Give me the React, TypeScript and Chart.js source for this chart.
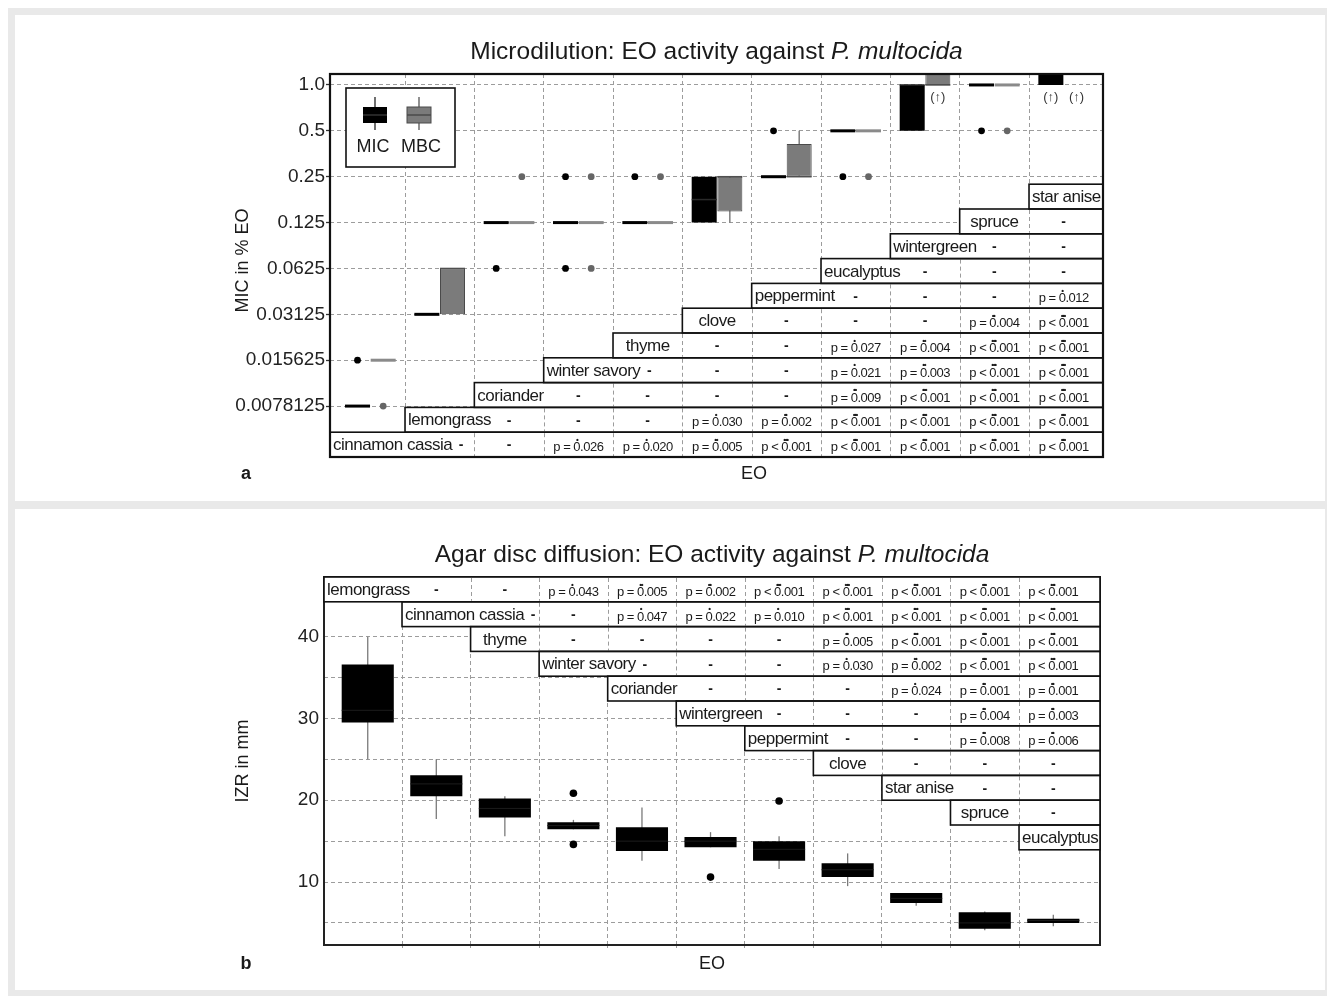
import React, { useEffect, useRef } from "react";
import { Chart, registerables } from "chart.js";
Chart.register(...registerables);

const FONT = "'Liberation Sans', Arial, sans-serif";
const GRID = "#9c9c9c";
const TEXT = "#1a1a1a";
const ROW_H = 24.8;

// ---------------- Panel a: microdilution ----------------
const titleA = "Microdilution: EO activity against ";
const titleItalic = "P. multocida";
const yTitleA = "MIC in % EO";
const xTitle = "EO";
const legendLabels = ["MIC", "MBC"];
const categoriesA = ["cinnamon cassia", "lemongrass", "coriander", "winter savory", "thyme", "clove", "peppermint", "eucalyptus", "wintergreen", "spruce", "star anise"];
const yTickValuesA = [1, 0.5, 0.25, 0.125, 0.0625, 0.03125, 0.015625, 0.0078125];
const yTickLabelsA = ["1.0", "0.5", "0.25", "0.125", "0.0625", "0.03125", "0.015625", "0.0078125"];

const micQ1 = [0.0078125, 0.03125, 0.125, 0.125, 0.125, 0.125, 0.25, 0.5, 0.5, 1, 1];
const micQ3 = [0.0078125, 0.03125, 0.125, 0.125, 0.125, 0.25, 0.25, 0.5, 1, 1, 2];
const micMedian = [0.0078125, 0.03125, 0.125, 0.125, 0.125, 0.177, 0.25, 0.5, 1, 1, 2];
const micWhiskerLow = [null, null, null, null, null, null, null, null, null, null, null];
const micWhiskerHigh = [null, null, null, null, null, null, null, null, null, null, null];
const micOutliers = [[0.015625], [], [0.0625], [0.25, 0.0625], [0.25], [], [0.5], [0.25], [], [0.5], []];
const micAboveRange = [false, false, false, false, false, false, false, false, false, false, true];

const mbcQ1 = [0.015625, 0.03125, 0.125, 0.125, 0.125, 0.148, 0.25, 0.5, 1, 1, null];
const mbcQ3 = [0.015625, 0.0625, 0.125, 0.125, 0.125, 0.25, 0.41, 0.5, 2, 1, null];
const mbcMedian = [0.015625, 0.0625, 0.125, 0.125, 0.125, 0.25, 0.25, 0.5, 1, 1, null];
const mbcWhiskerLow = [null, null, null, null, null, 0.125, null, null, null, null, null];
const mbcWhiskerHigh = [null, null, null, null, null, null, 0.5, null, null, null, null];
const mbcOutliers = [[0.0078125], [], [0.25], [0.25, 0.0625], [0.25], [], [], [0.25], [], [0.5], []];
const mbcAboveRange = [false, false, false, false, false, false, false, false, true, false, true];
const aboveRangeMark = "(\u2191)";

const tableA = [
  ["-", "-", "p = 0.026*", "p = 0.020*", "p = 0.005**", "p < 0.001***", "p < 0.001***", "p < 0.001***", "p < 0.001***", "p < 0.001***"],
  ["-", "-", "-", "p = 0.030*", "p = 0.002**", "p < 0.001***", "p < 0.001***", "p < 0.001***", "p < 0.001***"],
  ["-", "-", "-", "-", "p = 0.009**", "p < 0.001***", "p < 0.001***", "p < 0.001***"],
  ["-", "-", "-", "p = 0.021*", "p = 0.003**", "p < 0.001***", "p < 0.001***"],
  ["-", "-", "p = 0.027*", "p = 0.004**", "p < 0.001***", "p < 0.001***"],
  ["-", "-", "-", "p = 0.004**", "p < 0.001***"],
  ["-", "-", "-", "p = 0.012*"],
  ["-", "-", "-"],
  ["-", "-"],
  ["-"],
  [],
];

// ---------------- Panel b: agar disc diffusion ----------------
const titleB = "Agar disc diffusion: EO activity against ";
const yTitleB = "IZR in mm";
const categoriesB = ["lemongrass", "cinnamon cassia", "thyme", "winter savory", "coriander", "wintergreen", "peppermint", "clove", "star anise", "spruce", "eucalyptus"];
const yTickValuesB = [5, 10, 15, 20, 25, 30, 35, 40, 45];
const yTickLabelsB = ["", "10", "", "20", "", "30", "", "40", ""];
const izrQ1 = [29.5, 20.5, 17.9, 16.45, 13.8, 14.25, 12.6, 10.6, 7.45, 4.3, 5.0];
const izrQ3 = [36.6, 23.05, 20.2, 17.3, 16.7, 15.5, 15.0, 12.3, 8.65, 6.3, 5.5];
const izrMedian = [31, 22, 19, 16.9, 15, 15, 14, 11.5, 8, 5, 5.3];
const izrWhiskerLow = [25, 17.7, 15.6, 16.45, 12.6, 14.25, 11.6, 9.5, 7.1, 4.1, 4.6];
const izrWhiskerHigh = [40, 25, 20.5, 17.6, 19.1, 16.1, 15.6, 13.5, 8.65, 6.4, 6.0];
const izrOutliers = [[], [], [], [20.85, 14.6], [], [10.6], [19.9], [], [], [], []];

const tableB = [
  ["-", "-", "p = 0.043*", "p = 0.005**", "p = 0.002**", "p < 0.001***", "p < 0.001***", "p < 0.001***", "p < 0.001***", "p < 0.001***"],
  ["-", "-", "p = 0.047*", "p = 0.022*", "p = 0.010*", "p < 0.001***", "p < 0.001***", "p < 0.001***", "p < 0.001***"],
  ["-", "-", "-", "-", "p = 0.005**", "p < 0.001***", "p < 0.001***", "p < 0.001***"],
  ["-", "-", "-", "p = 0.030*", "p = 0.002**", "p < 0.001***", "p < 0.001***"],
  ["-", "-", "-", "p = 0.024*", "p = 0.001**", "p = 0.001**"],
  ["-", "-", "-", "p = 0.004**", "p = 0.003**"],
  ["-", "-", "p = 0.008**", "p = 0.006**"],
  ["-", "-", "-"],
  ["-", "-"],
  ["-"],
  [],
];

// ---------------- styling / layout constants ----------------
const MIC_FILL = "#000000";
const MBC_FILL = "#7b7b7b";
const MBC_EDGE = "#4a4a4a";
const CAT_A = 0.74;
const BAR_A = 0.975;
const CAT_B = 0.76;
const BAR_B = 1;
const TITLE_SIZE = 24.5;

const seriesA = [
  { q1: micQ1, q3: micQ3, med: micMedian, lo: micWhiskerLow, hi: micWhiskerHigh, out: micOutliers, above: micAboveRange, line: "#000", inner: "#2a2a2a", whisker: "#333", dot: "#000" },
  { q1: mbcQ1, q3: mbcQ3, med: mbcMedian, lo: mbcWhiskerLow, hi: mbcWhiskerHigh, out: mbcOutliers, above: mbcAboveRange, line: "#8a8a8a", inner: "#505050", whisker: "#6a6a6a", dot: "#666" },
];

function groupX(chart: any, j: number, s: number, n: number, cat: number, bar: number) {
  const xs = chart.scales.x;
  const c = xs.getPixelForValue(j);
  const unit = xs.getPixelForValue(j + 1) - c;
  const range = unit * cat;
  const slot = range / n;
  return { cx: c - range / 2 + slot * (s + 0.5), w: slot * bar };
}

function clipArea(ctx: any, a: any) {
  ctx.beginPath();
  ctx.rect(a.left, a.top, a.right - a.left, a.bottom - a.top);
  ctx.clip();
}

function drawCell(ctx: any, text: string, cx: number, cy: number) {
  ctx.fillStyle = TEXT;
  ctx.textBaseline = "middle";
  if (text === "-") {
    ctx.font = `bold 14px ${FONT}`;
    ctx.letterSpacing = "0px";
    ctx.textAlign = "center";
    ctx.fillText("-", cx, cy + 1);
    return;
  }
  const m = text.match(/^(.*?)(\*+)$/);
  const main = m ? m[1] : text;
  const n = m ? m[2].length : 0;
  ctx.font = `13px ${FONT}`;
  ctx.letterSpacing = "-0.5px";
  const tw = ctx.measureText(main).width;
  const x0 = cx - tw / 2;
  ctx.textAlign = "left";
  ctx.fillText(main, x0, cy + 3);
  if (n) {
    const di = main.search(/\d/);
    const px = x0 + ctx.measureText(main.slice(0, di)).width + ctx.measureText("0").width / 2;
    ctx.font = `bold 8px ${FONT}`;
    ctx.letterSpacing = "-1.4px";
    ctx.textAlign = "center";
    ctx.fillText("\u2022".repeat(n), px + 0.7 * (n - 1) * 0.5, cy - 5);
  }
  ctx.letterSpacing = "0px";
}

function drawTable(chart: any, labels: string[], cells: string[][], fromBottom: boolean) {
  const { ctx, chartArea: a } = chart;
  const xs = chart.scales.x;
  const n = labels.length;
  const left = (c: number) => (c === 0 ? a.left : xs.getPixelForValue(c - 0.5));
  const right = (c: number) => (c === n - 1 ? a.right : xs.getPixelForValue(c + 0.5));
  const rowTop = (k: number) => (fromBottom ? a.bottom - (k + 1) * ROW_H : a.top + k * ROW_H);
  ctx.save();
  ctx.font = `17px ${FONT}`;
  ctx.letterSpacing = "-0.5px";
  const info = labels.map((lab, k) => {
    const w = ctx.measureText(lab).width;
    const cw = right(k) - left(k);
    const fits = w + 6 <= cw;
    const lx = fits ? left(k) + (cw - w) / 2 : left(k) + 3;
    const overflow = k < n - 1 && lx + w > right(k) - 1;
    return { w, lx, overflow };
  });
  ctx.fillStyle = "#fff";
  labels.forEach((_, k) => ctx.fillRect(left(k), rowTop(k), a.right - left(k), ROW_H));
  ctx.strokeStyle = GRID;
  ctx.lineWidth = 1;
  ctx.setLineDash([4, 3]);
  labels.forEach((_, k) => {
    for (let b = k + 1; b < n; b++) {
      if (b === k + 1 && info[k].overflow) continue;
      const x = Math.round(left(b)) + 0.5;
      ctx.beginPath();
      ctx.moveTo(x, rowTop(k) + 1);
      ctx.lineTo(x, rowTop(k) + ROW_H - 1);
      ctx.stroke();
    }
  });
  ctx.setLineDash([]);
  ctx.strokeStyle = "#111";
  ctx.lineWidth = 1.6;
  labels.forEach((_, k) => ctx.strokeRect(left(k), rowTop(k), a.right - left(k), ROW_H));
  labels.forEach((lab, k) => {
    const cy = rowTop(k) + ROW_H / 2;
    ctx.font = `17px ${FONT}`;
    ctx.letterSpacing = "-0.5px";
    ctx.fillStyle = TEXT;
    ctx.textAlign = "left";
    ctx.textBaseline = "middle";
    ctx.fillText(lab, info[k].lx, cy + 1);
    cells[k].forEach((t, idx) => {
      const col = k + 1 + idx;
      let cx = xs.getPixelForValue(col);
      if (idx === 0 && info[k].overflow) cx = Math.max(cx, info[k].lx + info[k].w + 9);
      drawCell(ctx, t, cx, cy);
    });
  });
  ctx.restore();
}

function drawTitle(ctx: any, cx: number, cy: number, normal: string, italic: string) {
  ctx.save();
  ctx.textBaseline = "middle";
  ctx.textAlign = "left";
  ctx.fillStyle = TEXT;
  ctx.font = `${TITLE_SIZE}px ${FONT}`;
  const w1 = ctx.measureText(normal).width;
  ctx.font = `italic ${TITLE_SIZE}px ${FONT}`;
  const w2 = ctx.measureText(italic).width;
  const x0 = cx - (w1 + w2) / 2;
  ctx.font = `${TITLE_SIZE}px ${FONT}`;
  ctx.fillText(normal, x0, cy);
  ctx.font = `italic ${TITLE_SIZE}px ${FONT}`;
  ctx.fillText(italic, x0 + w1, cy);
  ctx.restore();
}

function drawAxisTexts(ctx: any, yTitle: string, yx: number, yy: number, ex: number, ey: number, letter: string) {
  ctx.save();
  ctx.fillStyle = TEXT;
  ctx.textAlign = "center";
  ctx.textBaseline = "middle";
  ctx.font = `18px ${FONT}`;
  ctx.fillText(xTitle, ex, ey);
  ctx.font = `bold 18px ${FONT}`;
  ctx.fillText(letter, 231, ey);
  ctx.translate(yx, yy);
  ctx.rotate(-Math.PI / 2);
  ctx.font = `18px ${FONT}`;
  ctx.fillText(yTitle, 0, 0);
  ctx.restore();
}

function drawLegend(ctx: any, x: number, y: number) {
  const w = 109, h = 79;
  ctx.save();
  ctx.fillStyle = "#fff";
  ctx.fillRect(x, y, w, h);
  ctx.strokeStyle = "#111";
  ctx.lineWidth = 1.6;
  ctx.strokeRect(x, y, w, h);
  const icons = [
    { cx: x + 29, fill: MIC_FILL, edge: null, wh: "#222", med: "#333", tx: x + 27 },
    { cx: x + 73, fill: MBC_FILL, edge: MBC_EDGE, wh: "#555", med: "#4a4a4a", tx: x + 75 },
  ];
  icons.forEach((ic, i) => {
    ctx.strokeStyle = ic.wh;
    ctx.lineWidth = 1.3;
    ctx.beginPath();
    ctx.moveTo(ic.cx, y + 9);
    ctx.lineTo(ic.cx, y + 42);
    ctx.stroke();
    ctx.fillStyle = ic.fill;
    ctx.fillRect(ic.cx - 12, y + 19, 24, 16);
    if (ic.edge) {
      ctx.strokeStyle = ic.edge;
      ctx.lineWidth = 1;
      ctx.strokeRect(ic.cx - 12, y + 19, 24, 16);
    }
    ctx.strokeStyle = ic.med;
    ctx.lineWidth = 1.5;
    ctx.beginPath();
    ctx.moveTo(ic.cx - 12, y + 27);
    ctx.lineTo(ic.cx + 12, y + 27);
    ctx.stroke();
    ctx.fillStyle = TEXT;
    ctx.font = `18px ${FONT}`;
    ctx.textAlign = "center";
    ctx.textBaseline = "middle";
    ctx.fillText(legendLabels[i], ic.tx, y + 59);
  });
  ctx.restore();
}

const plotA = {
  id: "plotA",
  beforeDatasetsDraw(chart: any) {
    const { ctx, chartArea: a } = chart;
    const ys = chart.scales.y;
    ctx.save();
    clipArea(ctx, a);
    seriesA.forEach((s, si) => {
      categoriesA.forEach((_, j) => {
        const lo = s.lo[j], hi = s.hi[j];
        if (lo == null && hi == null) return;
        const { cx } = groupX(chart, j, si, 2, CAT_A, BAR_A);
        ctx.strokeStyle = s.whisker;
        ctx.lineWidth = 1.3;
        ctx.beginPath();
        ctx.moveTo(cx, ys.getPixelForValue(hi != null ? hi : s.q3[j]));
        ctx.lineTo(cx, ys.getPixelForValue(lo != null ? lo : s.q1[j]));
        ctx.stroke();
      });
    });
    ctx.restore();
  },
  afterDatasetsDraw(chart: any) {
    const { ctx, chartArea: a } = chart;
    const ys = chart.scales.y;
    ctx.save();
    clipArea(ctx, a);
    seriesA.forEach((s, si) => {
      categoriesA.forEach((_, j) => {
        const { cx, w } = groupX(chart, j, si, 2, CAT_A, BAR_A);
        const med = s.med[j];
        if (med != null) {
          const y = ys.getPixelForValue(med);
          const flat = s.q1[j] === s.q3[j];
          ctx.strokeStyle = flat ? s.line : s.inner;
          ctx.lineWidth = flat ? 3 : 1.5;
          ctx.beginPath();
          ctx.moveTo(cx - w / 2, y);
          ctx.lineTo(cx + w / 2, y);
          ctx.stroke();
        }
        s.out[j].forEach((v) => {
          ctx.fillStyle = s.dot;
          ctx.beginPath();
          ctx.arc(cx, ys.getPixelForValue(v), 3.4, 0, Math.PI * 2);
          ctx.fill();
        });
      });
    });
    ctx.restore();
    ctx.save();
    ctx.fillStyle = "#333";
    ctx.font = `13px ${FONT}`;
    ctx.textAlign = "center";
    ctx.textBaseline = "middle";
    seriesA.forEach((s, si) => {
      categoriesA.forEach((_, j) => {
        if (!s.above[j]) return;
        const { cx } = groupX(chart, j, si, 2, CAT_A, BAR_A);
        ctx.fillText(aboveRangeMark, cx, ys.getPixelForValue(yTickValuesA[0]) + 12);
      });
    });
    ctx.restore();
    drawTable(chart, categoriesA, tableA, true);
    ctx.save();
    ctx.strokeStyle = "#111";
    ctx.lineWidth = 2.2;
    ctx.strokeRect(a.left, a.top, a.right - a.left, a.bottom - a.top);
    ctx.restore();
    drawLegend(ctx, a.left + 16, a.top + 14);
    drawTitle(ctx, (a.left + a.right) / 2, 37, titleA, titleItalic);
    drawAxisTexts(ctx, yTitleA, 228, (a.top + a.bottom) / 2 - 5, 739, 459, "a");
  },
};

const plotB = {
  id: "plotB",
  beforeDatasetsDraw(chart: any) {
    const { ctx, chartArea: a } = chart;
    const ys = chart.scales.y;
    ctx.save();
    clipArea(ctx, a);
    ctx.strokeStyle = "#7a7a7a";
    ctx.lineWidth = 1.3;
    categoriesB.forEach((_, j) => {
      const { cx } = groupX(chart, j, 0, 1, CAT_B, BAR_B);
      ctx.beginPath();
      ctx.moveTo(cx, ys.getPixelForValue(izrWhiskerHigh[j]));
      ctx.lineTo(cx, ys.getPixelForValue(izrWhiskerLow[j]));
      ctx.stroke();
    });
    ctx.restore();
  },
  afterDatasetsDraw(chart: any) {
    const { ctx, chartArea: a } = chart;
    const ys = chart.scales.y;
    ctx.save();
    clipArea(ctx, a);
    categoriesB.forEach((_, j) => {
      const { cx, w } = groupX(chart, j, 0, 1, CAT_B, BAR_B);
      const y = ys.getPixelForValue(izrMedian[j]);
      ctx.strokeStyle = "#1c1c1c";
      ctx.lineWidth = 1;
      ctx.beginPath();
      ctx.moveTo(cx - w / 2, y);
      ctx.lineTo(cx + w / 2, y);
      ctx.stroke();
      izrOutliers[j].forEach((v) => {
        ctx.fillStyle = "#000";
        ctx.beginPath();
        ctx.arc(cx, ys.getPixelForValue(v), 3.8, 0, Math.PI * 2);
        ctx.fill();
      });
    });
    ctx.restore();
    ctx.save();
    ctx.strokeStyle = "#222";
    ctx.lineWidth = 2;
    ctx.strokeRect(a.left, a.top, a.right - a.left, a.bottom - a.top);
    ctx.restore();
    drawTable(chart, categoriesB, tableB, false);
    drawTitle(ctx, (a.left + a.right) / 2, 46, titleB, titleItalic);
    drawAxisTexts(ctx, yTitleB, 228, (a.top + a.bottom) / 2, 697, 455, "b");
  },
};

const boundariesA = categoriesA.slice(1).map((_, i) => i + 0.5);
const boundariesB = categoriesB.slice(1).map((_, i) => i + 0.5);

function makeConfigA(): any {
  return {
    type: "bar",
    data: {
      datasets: [
        {
          label: legendLabels[0],
          data: categoriesA.map((_, j) => ({ x: j, y: micQ1[j] !== micQ3[j] ? [micQ1[j], micQ3[j]] : null })),
          backgroundColor: MIC_FILL,
          borderColor: MIC_FILL,
          borderWidth: 0,
          borderSkipped: false,
          categoryPercentage: CAT_A,
          barPercentage: BAR_A,
        },
        {
          label: legendLabels[1],
          data: categoriesA.map((_, j) => ({ x: j, y: mbcQ1[j] != null && mbcQ1[j] !== mbcQ3[j] ? [mbcQ1[j], mbcQ3[j]] : null })),
          backgroundColor: MBC_FILL,
          borderColor: MBC_EDGE,
          borderWidth: 1,
          borderSkipped: false,
          categoryPercentage: CAT_A,
          barPercentage: BAR_A,
        },
      ],
    },
    options: {
      animation: false,
      responsive: false,
      layout: { padding: { left: 0, right: 222, top: 59, bottom: 0 } },
      plugins: { legend: { display: false }, tooltip: { enabled: false }, title: { display: false } },
      scales: {
        x: {
          type: "linear",
          min: -0.582,
          max: 10.567,
          offset: false,
          grid: { offset: false, color: GRID, lineWidth: 1, drawTicks: false },
          border: { display: false, dash: [4, 3] },
          ticks: { display: false },
          afterBuildTicks: (s: any) => { s.ticks = boundariesA.map((v) => ({ value: v })); },
          afterFit: (s: any) => { s.height = 44; },
        },
        y: {
          type: "logarithmic",
          min: 0.00362,
          max: 1.18,
          grid: { color: GRID, lineWidth: 1, drawTicks: true, tickLength: 4, tickColor: "#333", tickWidth: 1.3, tickBorderDash: [] },
          border: { display: false, dash: [4, 3] },
          ticks: {
            font: { family: FONT, size: 19 },
            color: "#222",
            padding: 1,
            callback: (v: number) => {
              const i = yTickValuesA.indexOf(v);
              return i >= 0 ? yTickLabelsA[i] : "";
            },
          },
          afterBuildTicks: (s: any) => { s.ticks = yTickValuesA.map((v) => ({ value: v })); },
          afterFit: (s: any) => { s.width = 315; },
        },
      },
    },
    plugins: [plotA],
  };
}

function makeConfigB(): any {
  return {
    type: "bar",
    data: {
      datasets: [
        {
          label: "IZR",
          data: categoriesB.map((_, j) => ({ x: j, y: [izrQ1[j], izrQ3[j]] })),
          backgroundColor: "#000",
          borderColor: "#000",
          borderWidth: 0,
          borderSkipped: false,
          categoryPercentage: CAT_B,
          barPercentage: BAR_B,
        },
      ],
    },
    options: {
      animation: false,
      responsive: false,
      layout: { padding: { left: 0, right: 225, top: 68, bottom: 0 } },
      plugins: { legend: { display: false }, tooltip: { enabled: false }, title: { display: false } },
      scales: {
        x: {
          type: "linear",
          min: -0.638,
          max: 10.681,
          offset: false,
          grid: { offset: false, color: GRID, lineWidth: 1, drawTicks: true, tickLength: 5, tickColor: GRID, tickBorderDash: [3, 3] },
          border: { display: false, dash: [4, 3] },
          ticks: { display: false },
          afterBuildTicks: (s: any) => { s.ticks = boundariesB.map((v) => ({ value: v })); },
          afterFit: (s: any) => { s.height = 45; },
        },
        y: {
          type: "linear",
          min: 2.3,
          max: 47.3,
          grid: { color: GRID, lineWidth: 1, drawTicks: false },
          border: { display: false, dash: [4, 3] },
          ticks: {
            font: { family: FONT, size: 19 },
            color: "#222",
            padding: 5,
            callback: (v: number) => {
              const i = yTickValuesB.indexOf(v);
              return i >= 0 ? yTickLabelsB[i] : "";
            },
          },
          afterBuildTicks: (s: any) => { s.ticks = yTickValuesB.map((v) => ({ value: v })); },
          afterFit: (s: any) => { s.width = 309; },
        },
      },
    },
    plugins: [plotB],
  };
}

function ChartCanvas({ make, width, height }: { make: () => any; width: number; height: number }) {
  const ref = useRef<HTMLCanvasElement>(null);
  useEffect(() => {
    const chart = new Chart(ref.current as HTMLCanvasElement, make());
    return () => chart.destroy();
  }, []);
  return <canvas ref={ref} width={width} height={height} style={{ display: "block", width, height }} />;
}

export default function App() {
  return (
    <div style={{ position: "absolute", left: 8, top: 8, width: 1319, height: 988, background: "#e9e9e9", overflow: "hidden" }}>
      <div style={{ position: "absolute", left: 7, top: 7, width: 1310, height: 486, background: "#fff" }}>
        <ChartCanvas make={makeConfigA} width={1310} height={486} />
      </div>
      <div style={{ position: "absolute", left: 7, top: 501, width: 1310, height: 481, background: "#fff" }}>
        <ChartCanvas make={makeConfigB} width={1310} height={481} />
      </div>
    </div>
  );
}
